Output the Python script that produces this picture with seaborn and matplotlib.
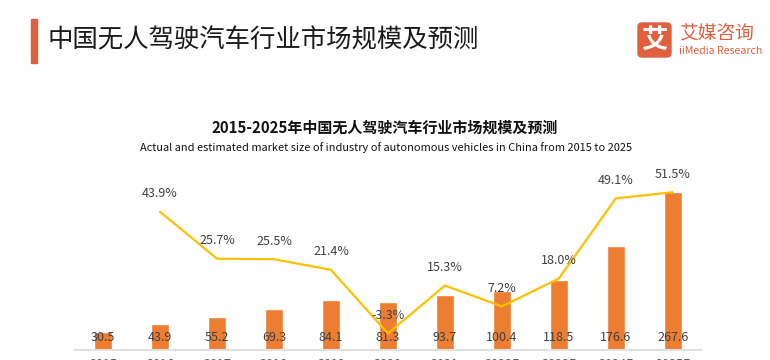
import matplotlib
matplotlib.use("Agg")
import matplotlib.pyplot as plt
from matplotlib.patches import FancyBboxPatch, Rectangle
import seaborn as sns
import numpy as np
import pandas as pd

years = ["2015", "2016", "2017", "2018", "2019", "2020", "2021",
         "2022E", "2023E", "2024E", "2025E"]
market_size = [30.5, 43.9, 55.2, 69.3, 84.1, 81.3, 93.7, 100.4, 118.5, 176.6, 267.6]
growth = [np.nan, 43.9, 25.7, 25.5, 21.4, -3.3, 15.3, 7.2, 18.0, 49.1, 51.5]

main_title = "中国无人驾驶汽车行业市场规模及预测"
chart_title = "2015-2025年中国无人驾驶汽车行业市场规模及预测"
chart_subtitle = "Actual and estimated market size of industry of autonomous vehicles in China from 2015 to 2025"

sns.set_theme(style="white")
plt.rcParams['font.family'] = ['Noto Sans CJK SC', 'DejaVu Sans']

BAR = "#ED7D31"
LINE = "#FFC000"
TXT = "#404040"
ACC = "#E0603E"

df = pd.DataFrame({"year": years, "size": market_size, "growth": growth,
                   "pos": np.arange(len(years))})

fig = plt.figure(figsize=(7.7, 3.6), dpi=100)
ax = fig.add_axes([0.0968, 0.0278, 0.814, 0.472])
sns.barplot(data=df, x="year", y="size", color=BAR, width=0.32, ax=ax,
            saturation=1)
ax.set_xlim(-0.5, len(years) - 0.5)
ax.set_ylim(0, 288)
ax.set_xlabel("")
ax.set_ylabel("")
ax.set_yticks([])
for s in ["top", "right", "left"]:
    ax.spines[s].set_visible(False)
ax.spines["bottom"].set_color("#E0E0E0")
ax.spines["bottom"].set_linewidth(1.5)
ax.tick_params(axis="x", length=0, pad=6, labelsize=9, labelcolor="#595959")
for i, v in enumerate(market_size):
    ax.text(i, 22, f"{v:.1f}", ha="center", va="center", fontsize=9, color=TXT)

ax2 = ax.twinx()
sns.lineplot(data=df, x="pos", y="growth", color=LINE, linewidth=1.6, ax=ax2)
ax2.set_ylim(-9.7, 56.2)
ax2.set_xlim(-0.5, len(years) - 0.5)
ax2.set_yticks([])
ax2.set_ylabel("")
ax2.set_xlabel("")
for s in ["top", "right", "left", "bottom"]:
    ax2.spines[s].set_visible(False)
for i, g in enumerate(growth):
    if not np.isnan(g):
        ax2.annotate(f"{g:.1f}%", (i, g), xytext=(0, 13), textcoords="offset points",
                     ha="center", va="center", fontsize=9, color=TXT)

# header
fig.patches.append(Rectangle((31, 360 - 63), 6, 44, transform=None,
                             color=ACC, figure=fig))
fig.text(48 / 770, 1 - 40 / 360, main_title, fontsize=18.3, color="#1a1a1a",
         ha="left", va="center", fontweight="medium")
# logo
fig.patches.append(FancyBboxPatch((638, 360 - 57), 33, 34, boxstyle="round,pad=0,rounding_size=4",
                                  transform=None, color=ACC, figure=fig))
fig.text(654.5 / 770, 1 - 40 / 360, "艾", fontsize=19, color="white",
         ha="center", va="center", fontweight="bold")
fig.text(679 / 770, 1 - 33 / 360, "艾媒咨询", fontsize=13.5, color=ACC,
         ha="left", va="center", fontweight="medium")
fig.text(679 / 770, 1 - 51 / 360, "iiMedia Research", fontsize=7.6, color=ACC,
         ha="left", va="center")

fig.text(385 / 770, 1 - 128 / 360, chart_title, fontsize=10.8, fontweight="bold",
         color="#111111", ha="center", va="center")
fig.text(386 / 770, 1 - 148 / 360, chart_subtitle, fontsize=7.9,
         color="#111111", ha="center", va="center")

fig.savefig("out.png", dpi=100)
